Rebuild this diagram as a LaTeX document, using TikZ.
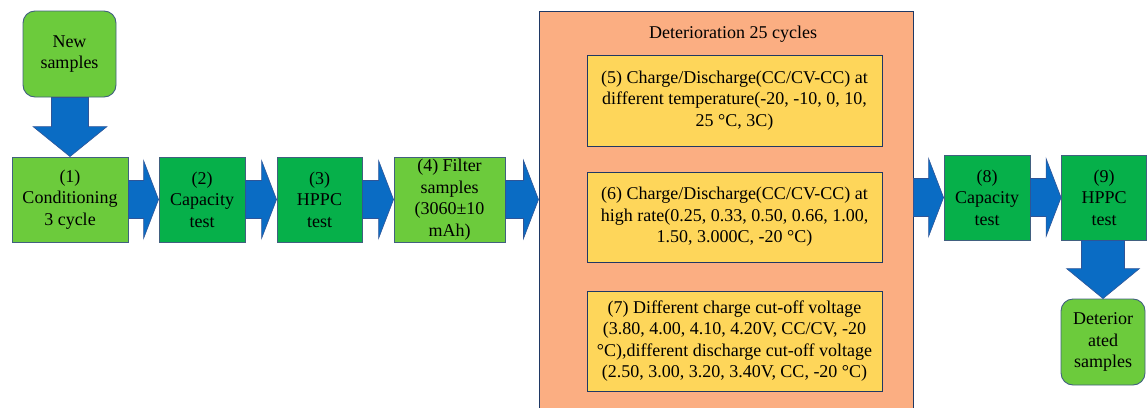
\documentclass[tikz,border=0pt]{standalone}
\usepackage{fontspec}
\setmainfont{Liberation Serif}
\usetikzlibrary{calc}
\definecolor{lgreen}{HTML}{6CCB3C}
\definecolor{dgreen}{HTML}{06B04A}
\definecolor{arrblue}{HTML}{0A6CC4}
\definecolor{arredge}{HTML}{2F5597}
\definecolor{boxedge}{HTML}{41607F}
\definecolor{orangefill}{HTML}{FBAE82}
\definecolor{detedge}{HTML}{1F3864}
\definecolor{yellowfill}{HTML}{FED65A}
\tikzset{
  txt/.style={font=\fontsize{18}{21.5}\selectfont, align=center, inner sep=0pt},
  lbox/.style={txt, draw=boxedge, line width=0.9pt, fill=lgreen},
  dbox/.style={txt, draw=boxedge, line width=0.9pt, fill=dgreen},
  ybox/.style={txt, draw=detedge, line width=1pt, fill=yellowfill, minimum width=295pt},
  rbox/.style={lbox, rounded corners=12pt},
  blockarrow/.style={fill=arrblue, draw=arredge, line width=0.6pt, line join=miter},
}
% horizontal block arrow: start point, tip point
\newcommand{\harr}[2]{%
  \draw[blockarrow] let \p1=#1, \p2=#2 in
    (\x1,\y2-19) -- (\x2-15,\y2-19) -- (\x2-15,\y2-39) -- (\x2,\y2)
    -- (\x2-15,\y2+39) -- (\x2-15,\y2+19) -- (\x1,\y2+19) -- cycle;}
% vertical block arrow (downward in picture): start, tip, shaft half, head half
\newcommand{\varr}[4]{%
  \draw[blockarrow] let \p1=#1, \p2=#2 in
    (\x2-#3,\y1) -- (\x2-#3,\y2+30) -- (\x2-#4,\y2+30) -- (\x2,\y2)
    -- (\x2+#4,\y2+30) -- (\x2+#3,\y2+30) -- (\x2+#3,\y1) -- cycle;}
\begin{document}
\begin{tikzpicture}[x=1pt,y=-1pt]
\useasboundingbox (0,0) rectangle (1147,407);
% deterioration container
\node[draw=detedge, line width=1pt, fill=orangefill, minimum width=374pt, minimum height=410pt, inner sep=0pt] (det) at (726,216) {};
\node[txt] (title) at (733,34) {Deterioration 25 cycles};
\node[ybox, minimum height=91pt] (f5) at (734.5,100.5) {(5) Charge/Discharge(CC/CV-CC) at\\different temperature(-20, -10, 0, 10,\\25 °C, 3C)};
\node[ybox, minimum height=90pt] (f6) at (734.5,217) {(6) Charge/Discharge(CC/CV-CC) at\\high rate(0.25, 0.33, 0.50, 0.66, 1.00,\\1.50, 3.000C, -20 °C)};
\node[ybox, minimum height=100pt] (f7) at (734.5,341) {(7) Different charge cut-off voltage\\(3.80, 4.00, 4.10, 4.20V, CC/CV, -20\\°C),different discharge cut-off voltage\\(2.50, 3.00, 3.20, 3.40V, CC, -20 °C)};
% left chain
\node[rbox, minimum width=93pt, minimum height=86pt] (new) at (69.5,54) {New\\samples};
\node[lbox, minimum width=116pt, minimum height=85pt] (f1) at (70,199.5) {(1)\\Conditioning\\3 cycle};
\node[dbox, minimum width=86pt, minimum height=85pt] (f2) at (202,199.5) {(2)\\Capacity\\test};
\node[dbox, minimum width=85pt, minimum height=85pt] (f3) at (319.5,199.5) {(3)\\HPPC\\test};
\node[lbox, minimum width=111pt, minimum height=85pt] (f4) at (449.5,199.5) {(4) Filter\\samples\\(3060±10\\mAh)};
% right chain
\node[dbox, minimum width=86pt, minimum height=85pt] (f8) at (987,197.5) {(8)\\Capacity\\test};
\node[dbox, minimum width=85pt, minimum height=85pt] (f9) at (1104,197.5) {(9)\\HPPC\\test};
\node[rbox, minimum width=84pt, minimum height=86pt] (out) at (1103,342) {Deterior\\ated\\samples};
% arrows
\varr{(new.south)}{(f1.north)}{18.5}{37}
\harr{(f1.east)}{(f2.west)}
\harr{(f2.east)}{(f3.west)}
\harr{(f3.east)}{(f4.west)}
\harr{(f4.east)}{(det.west |- f4.west)}
\harr{(det.east)}{(f8.west)}
\harr{(f8.east)}{(f9.west)}
\varr{(f9.south)}{(out.north)}{21.5}{36.5}
\end{tikzpicture}
\end{document}
